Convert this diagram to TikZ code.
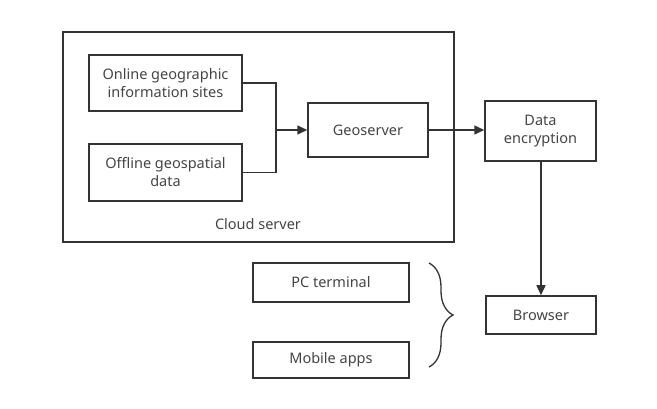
\documentclass[tikz,border=0pt]{standalone}
\usepackage{fontspec}
\setmainfont{Noto Sans}
\usepackage{tikz}
\usetikzlibrary{arrows.meta, decorations.pathreplacing}
\definecolor{boxline}{RGB}{51, 51, 51}
\definecolor{boxtext}{RGB}{68, 68, 68}

\begin{document}
\begin{tikzpicture}[x=1pt, y=-1pt,
        box/.style={draw=boxline, line width=1.5pt, text=boxtext, align=center,
            font=\fontsize{14.5}{18}\selectfont, inner sep=0pt},
        link/.style={draw=boxline, line width=1.5pt},
        arr/.style={link, -{Triangle[length=10pt, width=9pt]}}]
        \useasboundingbox (0,0) rectangle (657,409);

        % 云服务器
        \node[box, minimum width=391pt, minimum height=210pt] (cloud) at (258.5,137) {};
        \node[text=boxtext, font=\fontsize{14.5}{18}\selectfont] (cloudlbl) at (258,224) {Cloud server};

        \node[box, minimum width=153pt, minimum height=56pt] (online) at (165.5,83) {Online geographic\\information sites};
        \node[box, minimum width=153pt, minimum height=57pt] (offline) at (165.5,172.5) {Offline geospatial\\data};
        \node[box, minimum width=120pt, minimum height=54pt] (geo) at (368,130) {Geoserver};

        % 汇合
        \coordinate (join) at (276,130);
        \draw[link] (online.east) -| (join) |- (offline.east);
        \draw[arr] (join) -- (geo.west);

        \node[box, minimum width=111pt, minimum height=60pt] (enc) at (540.5,131) {Data\\encryption};
        \draw[arr] (geo.east) -- (enc.west |- geo.east);

        % 客户端
        \node[box, minimum width=110pt, minimum height=38pt] (browser) at (541,315) {Browser};
        \draw[arr] (enc.south -| browser.north) -- (browser.north);

        \node[box, minimum width=156pt, minimum height=39pt] (pc) at (331,282.5) {PC terminal};
        \node[box, minimum width=156pt, minimum height=36pt] (mobile) at (331,360) {Mobile apps};

        \coordinate (bracetop) at (429,263);
        \coordinate (bracebot) at (429,367);
        \draw[link, line width=1.3pt, decorate, decoration={brace, amplitude=24pt}] (bracetop) -- (bracebot);
    \end{tikzpicture}
\end{document}
